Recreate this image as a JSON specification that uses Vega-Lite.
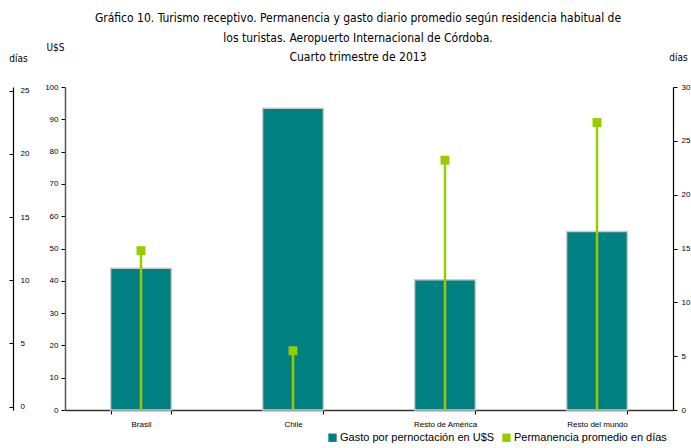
{
  "$schema": "https://vega.github.io/schema/vega-lite/v6.json",
  "width": 608,
  "height": 323,
  "autosize": {"type": "none"},
  "padding": {"left": 65, "top": 87, "right": 18, "bottom": 38},
  "background": "white",
  "title": {
    "text": ["Gráfico 10. Turismo receptivo. Permanencia y gasto diario promedio según residencia habitual de", "los turistas. Aeropuerto Internacional de Córdoba.", "Cuarto trimestre de 2013"],
    "font": "Liberation Sans Narrow, DejaVu Sans Condensed, sans-serif",
    "fontSize": 12,
    "fontWeight": "normal",
    "color": "#000000",
    "lineHeight": 19.5,
    "anchor": "middle",
    "dx": -11,
    "offset": -22
  },
  "data": {
    "values": [
      {"region": "Brasil", "gasto": 43.9, "dias": 14.8},
      {"region": "Chile", "gasto": 93.4, "dias": 5.5},
      {"region": "Resto de América", "gasto": 40.3, "dias": 23.2},
      {"region": "Resto del mundo", "gasto": 55.3, "dias": 26.7}
    ]
  },
  "encoding": {
    "x": {
      "field": "region",
      "type": "nominal",
      "sort": null,
      "scale": {"paddingInner": 0.6, "paddingOuter": 0.3},
      "axis": {
        "title": null,
        "labelAngle": 0,
        "labelFont": "Liberation Sans",
        "labelFontSize": 8,
        "labelColor": "#000000",
        "labelPadding": 6,
        "tickBand": "extent",
        "tickSize": 4,
        "tickColor": "#000000",
        "domainColor": "#333333",
        "domainWidth": 1.5
      }
    }
  },
  "layer": [
    {
      "mark": {"type": "bar", "stroke": "#cccccc", "strokeWidth": 1.5},
      "encoding": {
        "y": {
          "field": "gasto",
          "type": "quantitative",
          "scale": {"domain": [0, 100], "nice": false},
          "axis": {
            "title": "U$S",
            "titleAngle": 0,
            "titleX": -10,
            "titleY": -40,
            "titleAlign": "center",
            "titleBaseline": "middle",
            "titleFont": "Liberation Sans Narrow, DejaVu Sans Condensed, sans-serif",
            "titleFontSize": 10,
            "titleFontWeight": "normal",
            "titleColor": "#000000",
            "values": [0, 10, 20, 30, 40, 50, 60, 70, 80, 90, 100],
            "grid": false,
            "orient": "left",
            "labelFont": "Liberation Sans",
            "labelFontSize": 8,
            "labelColor": "#000000",
            "tickSize": 4,
            "tickColor": "#000000",
            "labelPadding": 3,
            "domainColor": "#555555",
            "domainWidth": 1.5
          }
        },
        "color": {"datum": "Gasto por pernoctación en U$S"}
      }
    },
    {
      "layer": [
        {
          "mark": {"type": "rule", "strokeWidth": 2.5},
          "encoding": {
            "y": {
              "field": "dias",
              "type": "quantitative",
              "scale": {"domain": [0, 30], "nice": false},
              "axis": {
                "title": "días",
                "titleAngle": 0,
                "titleX": 5,
                "titleY": -30,
                "titleAlign": "center",
                "titleBaseline": "middle",
                "titleFont": "Liberation Sans Narrow, DejaVu Sans Condensed, sans-serif",
                "titleFontSize": 10,
                "titleFontWeight": "normal",
                "titleColor": "#000000",
                "orient": "right",
                "values": [0, 5, 10, 15, 20, 25, 30],
                "grid": false,
                "labelFont": "Liberation Sans",
                "labelFontSize": 8,
                "labelColor": "#000000",
                "tickSize": 4,
                "tickColor": "#000000",
                "labelPadding": 4,
                "domainColor": "#000000",
                "domainWidth": 1.2
              }
            },
            "y2": {"datum": 0},
            "color": {"datum": "Permanencia promedio en días"}
          }
        },
        {
          "mark": {"type": "point", "shape": "square", "filled": true, "size": 80, "opacity": 1},
          "encoding": {
            "y": {"field": "dias", "type": "quantitative"},
            "color": {"datum": "Permanencia promedio en días"}
          }
        }
      ]
    },
    {
      "mark": {"type": "point", "opacity": 0},
      "encoding": {
        "y": {
          "field": "dias",
          "type": "quantitative",
          "scale": {"domain": [-0.27, 25.3], "nice": false, "zero": false},
          "axis": {
            "title": "días",
            "titleAngle": 0,
            "titleX": 5,
            "titleY": -29,
            "titleAlign": "center",
            "titleBaseline": "middle",
            "titleFont": "Liberation Sans Narrow, DejaVu Sans Condensed, sans-serif",
            "titleFontSize": 10,
            "titleFontWeight": "normal",
            "titleColor": "#000000",
            "orient": "left",
            "offset": 52,
            "values": [0, 5, 10, 15, 20, 25],
            "grid": false,
            "labelFont": "Liberation Sans",
            "labelFontSize": 8,
            "labelColor": "#000000",
            "labelAlign": "left",
            "labelPadding": -11,
            "tickSize": 4,
            "tickColor": "#000000",
            "domainColor": "#000000",
            "domainWidth": 1.2
          }
        }
      }
    }
  ],
  "resolve": {"scale": {"y": "independent"}},
  "config": {
    "view": {"stroke": null},
    "range": {"category": ["#008080", "#99CC00"]},
    "legend": {
      "orient": "none",
      "legendX": 262,
      "legendY": 345,
      "direction": "horizontal",
      "title": null,
      "symbolType": "square",
      "symbolSize": 70,
      "symbolOpacity": 1,
      "symbolStrokeWidth": 0,
      "labelFont": "Liberation Sans",
      "labelFontSize": 11,
      "labelColor": "#000000",
      "labelOffset": 2,
      "columnPadding": 6
    }
  }
}
